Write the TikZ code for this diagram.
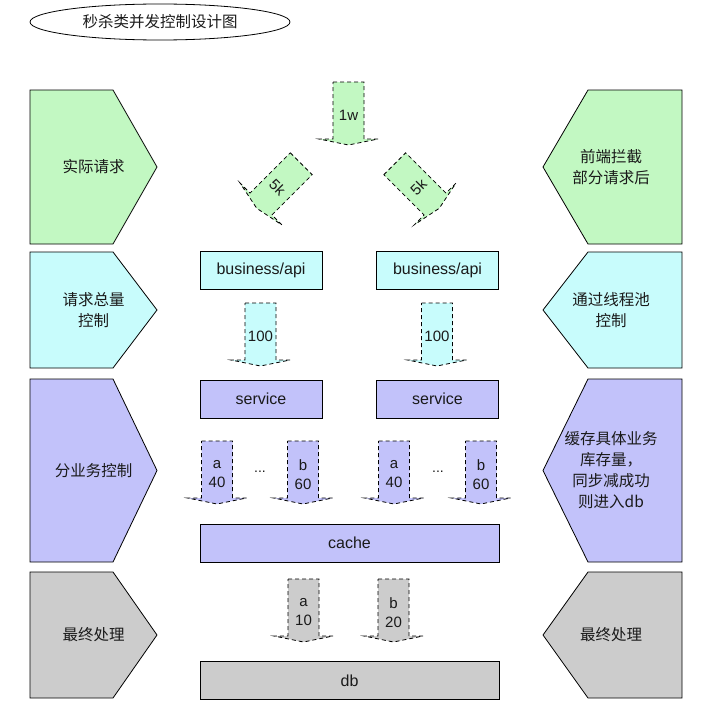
\documentclass[tikz,border=0pt]{standalone}
\usepackage{fontspec}
\setmainfont{Liberation Sans}
\newfontfamily\cjk{Noto Sans CJK SC}
\usetikzlibrary{shapes.geometric}

\definecolor{reqgreen}{HTML}{C2F8C2}
\definecolor{reqcyan}{HTML}{C8FCFC}
\definecolor{reqpurple}{HTML}{C2C2FA}
\definecolor{reqgray}{HTML}{CCCCCC}
\definecolor{inkdark}{HTML}{1A1A1A}

\tikzset{
  band/.style={draw=black, line width=0.8pt, line join=miter},
  bandtext/.style={font=\cjk\fontsize{15.5}{21}\selectfont, text=inkdark, align=center, inner sep=0pt},
  box/.style={draw=black, line width=0.8pt, minimum height=38pt, inner sep=0pt,
              font=\fontsize{16}{19}\selectfont, text=inkdark},
  arrowline/.style={draw=black, line width=0.8pt, dash pattern=on 4pt off 3pt},
  arrowtext/.style={font=\fontsize{15}{19}\selectfont, text=inkdark, align=center, inner sep=0pt},
  dotstext/.style={font=\fontsize{14}{16}\selectfont, text=inkdark, inner sep=0pt},
  % dashed block arrow pointing down, origin at its centre
  pics/flowarrow/.style 2 args={code={
    \draw[arrowline, fill=#1] (-15.5,31.5) -- (15.5,31.5) -- (15.5,-25.5) -- (29.5,-25.5)
      -- (0,-31.5) -- (-29.5,-25.5) -- (-15.5,-25.5) -- cycle;
    \node[arrowtext, transform shape] (-label) at (0,-2) {#2};
  }},
}

\begin{document}
\begin{tikzpicture}[x=1pt,y=1pt]
\useasboundingbox (0,0) rectangle (704,-701);

% title
\node[ellipse, draw=black, line width=0.8pt, minimum width=260pt, minimum height=36pt,
      inner sep=0pt, font=\cjk\fontsize{15.5}{18}\selectfont, text=inkdark]
  (title) at (160,-22) {秒杀类并发控制设计图};

% left side bands
\draw[band, fill=reqgreen]  (30,-90)  -- (113,-90)  -- (157,-167)   -- (113,-244) -- (30,-244) -- cycle;
\draw[band, fill=reqcyan]   (30,-252) -- (113,-252) -- (157,-310)   -- (113,-368) -- (30,-368) -- cycle;
\draw[band, fill=reqpurple] (30,-379) -- (113,-379) -- (157,-470.5) -- (113,-562) -- (30,-562) -- cycle;
\draw[band, fill=reqgray]   (30,-572) -- (113,-572) -- (157,-635)   -- (113,-698) -- (30,-698) -- cycle;
\node[bandtext] (l1) at (93.5,-167)   {实际请求};
\node[bandtext] (l2) at (93.5,-310)   {请求总量\\控制};
\node[bandtext] (l3) at (93.5,-470.5) {分业务控制};
\node[bandtext] (l4) at (93.5,-635)   {最终处理};

% right side bands
\draw[band, fill=reqgreen]  (682,-90)  -- (588,-90)  -- (543,-167)   -- (588,-244) -- (682,-244) -- cycle;
\draw[band, fill=reqcyan]   (682,-252) -- (588,-252) -- (543,-310)   -- (588,-368) -- (682,-368) -- cycle;
\draw[band, fill=reqpurple] (682,-379) -- (588,-379) -- (543,-470.5) -- (588,-562) -- (682,-562) -- cycle;
\draw[band, fill=reqgray]   (682,-572) -- (588,-572) -- (543,-635)   -- (588,-698) -- (682,-698) -- cycle;
\node[bandtext] (r1) at (611,-167)   {前端拦截\\部分请求后};
\node[bandtext] (r2) at (611,-310)   {通过线程池\\控制};
\node[bandtext] (r3) at (611,-470.5) {缓存具体业务\\库存量，\\同步减成功\\则进入db};
\node[bandtext] (r4) at (611,-635)   {最终处理};

% request flow
\pic (w1)  at (348.5,-113.5) {flowarrow={reqgreen}{1w}};
\pic[rotate=-45] (k5a) at (279,-186) {flowarrow={reqgreen}{5k}};
\pic[rotate=45]  (k5b) at (417,-186) {flowarrow={reqgreen}{5k}};

\node[box, fill=reqcyan, minimum width=122pt] (api1) at (261,-270.5)   {business/api};
\node[box, fill=reqcyan, minimum width=122pt] (api2) at (437.5,-270.5) {business/api};

\pic (h1) at (260.5,-334.5) {flowarrow={reqcyan}{100}};
\pic (h2) at (437,-334.5)   {flowarrow={reqcyan}{100}};

\node[box, fill=reqpurple, minimum width=122pt] (svc1) at (261,-399)   {service};
\node[box, fill=reqpurple, minimum width=122pt] (svc2) at (437.5,-399) {service};

\pic (a1) at (217,-472.5) {flowarrow={reqpurple}{a\\40}};
\pic (b1) at (303,-472.5) {flowarrow={reqpurple}{b\\60}};
\pic (a2) at (394,-472.5) {flowarrow={reqpurple}{a\\40}};
\pic (b2) at (481,-472.5) {flowarrow={reqpurple}{b\\60}};
\node[dotstext] (dots1) at (260,-472) {...};
\node[dotstext] (dots2) at (438,-472) {...};

\node[box, fill=reqpurple, minimum width=299pt] (cache) at (349.5,-543) {cache};

\pic (a3) at (303.5,-610.5) {flowarrow={reqgray}{a\\10}};
\pic (b3) at (393.5,-610.5) {flowarrow={reqgray}{b\\20}};

\node[box, fill=reqgray, minimum width=299pt] (db) at (349.5,-680.5) {db};
\end{tikzpicture}
\end{document}
